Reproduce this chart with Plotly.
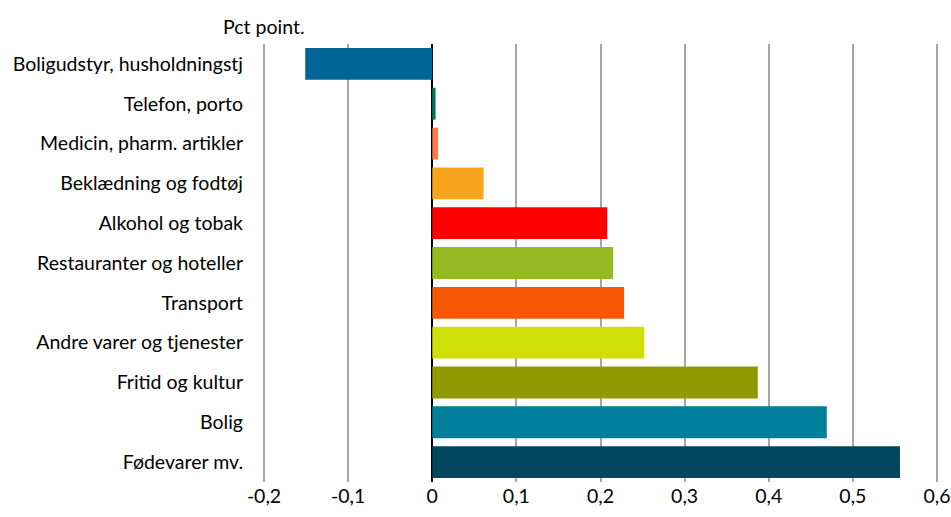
import plotly.graph_objects as go

categories = ["Boligudstyr, husholdningstj", "Telefon, porto", "Medicin, pharm. artikler",
              "Beklædning og fodtøj", "Alkohol og tobak", "Restauranter og hoteller",
              "Transport", "Andre varer og tjenester", "Fritid og kultur", "Bolig",
              "Fødevarer mv."]
values = [-0.151, 0.004, 0.007, 0.061, 0.208, 0.215, 0.228, 0.252, 0.387, 0.469, 0.556]
colors = ["#006496", "#007a5e", "#f97a4a", "#f9a51c", "#ff0000", "#96bb22",
          "#f75700", "#d0df08", "#909a00", "#00809a", "#00465c"]
tick_vals = [-0.2, -0.1, 0, 0.1, 0.2, 0.3, 0.4, 0.5, 0.6]
tick_text = ["-0,2", "-0,1", "0", "0,1", "0,2", "0,3", "0,4", "0,5", "0,6"]

fig = go.Figure(go.Bar(
    x=values, y=categories, orientation="h",
    marker=dict(color=colors, line=dict(width=0)),
))
fig.update_layout(
    width=951, height=517,
    margin=dict(l=262, r=12, t=44, b=35),
    paper_bgcolor="white", plot_bgcolor="white",
    bargap=0.2,
    showlegend=False,
    font=dict(family="Lato, Open Sans, sans-serif", size=19.5, color="#000000"),
    xaxis=dict(range=[-0.2024, 0.6024], tickvals=tick_vals, ticktext=tick_text,
               showgrid=True, gridcolor="#a6a6a6", gridwidth=1.5,
               zeroline=True, zerolinecolor="#000000", zerolinewidth=2,
               showline=False, ticks="", tickfont=dict(size=19.5), automargin=False),
    yaxis=dict(autorange="reversed", showgrid=False, zeroline=False, showline=False,
               ticks="", ticklabelstandoff=18, tickfont=dict(size=19.5), automargin=False),
    annotations=[dict(text="Pct point.", xref="x", yref="paper", x=-0.2, y=1.0,
                      xanchor="center", yanchor="bottom", yshift=4, showarrow=False,
                      font=dict(size=19.5))],
)
fig.write_html(
    "out.html",
    config={"displayModeBar": False},
    post_script="document.body.style.margin='0';document.body.style.overflow='hidden';",
)
